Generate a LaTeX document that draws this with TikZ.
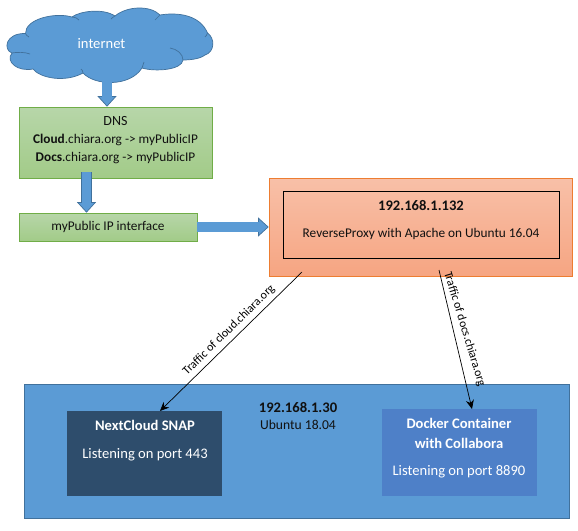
\documentclass[tikz,border=0pt]{standalone}
\usepackage{fontspec}
\setmainfont{Carlito}
\usetikzlibrary{arrows.meta,positioning}
\definecolor{flowblue}{HTML}{5B9BD5}
\definecolor{flowedge}{HTML}{41719C}
\definecolor{greentop}{HTML}{B7D6A9}
\definecolor{greenlow}{HTML}{A2CB88}
\definecolor{greenedge}{HTML}{70AD47}
\definecolor{orangetop}{HTML}{F8C0A8}
\definecolor{orangelow}{HTML}{F6A582}
\definecolor{orangeedge}{HTML}{ED7D31}
\definecolor{snapblue}{HTML}{2E4D6C}
\definecolor{dockerblue}{HTML}{4E80C8}
\definecolor{inktext}{HTML}{111111}

\begin{document}
\begin{tikzpicture}[
    x=1pt, y=-1pt,
    label/.style={font=\fontsize{13.3}{15}\selectfont, text=inktext, inner sep=0pt},
    boldlabel/.style={label, font=\fontsize{14.6}{16}\selectfont\bfseries},
    whitelabel/.style={label, font=\fontsize{14.6}{16}\selectfont, text=white},
    whitebold/.style={boldlabel, text=white},
    trafficlabel/.style={label, font=\fontsize{12}{14}\selectfont, text=black},
    greenbox/.style={draw=greenedge, line width=0.7pt, top color=greentop, bottom color=greenlow,
                     minimum width=#1, inner sep=0pt},
    blockflow/.style={line width=10.6pt, draw=flowedge,
                      -{Triangle[length=10.5pt, width=19pt, fill=flowblue, color=flowedge, line width=0.7pt]},
                      postaction={draw=flowblue, line width=9.2pt, -, shorten >=9.5pt}},
    trafficflow/.style={draw=black, line width=0.7pt, -{Stealth[length=9pt, width=8pt]}},
]
\useasboundingbox (0,0) rectangle (578,530);

% Cloud
\fill[white] (0,0) rectangle (578,530);
\draw[fill=flowblue, draw=flowedge, line width=0.7pt]
    (25.5,33.5) .. controls (25,19) and (55,12) .. (72,17)
    .. controls (80,11) and (103,8) .. (115,16)
    .. controls (127,6) and (150,5) .. (160,15)
    .. controls (178,12) and (200,15) .. (207.5,33)
    .. controls (215,38) and (215,52) .. (205,55)
    .. controls (200,59) and (190,60) .. (183,60)
    .. controls (182,70) and (155,72) .. (142,68)
    .. controls (130,87) and (95,86) .. (83,73)
    .. controls (65,83) and (40,78) .. (33,69)
    .. controls (18,72) and (5,62) .. (12,53)
    .. controls (3,50) and (5,33) .. (25.5,33.5) -- cycle;
\draw[flowedge, line width=0.7pt] (12,53) .. controls (17,52) and (25,52) .. (30,54);
\draw[flowedge, line width=0.7pt] (170,48) .. controls (177,49) and (183,54) .. (183,60);
\draw[flowedge, line width=0.7pt] (83,73) .. controls (83,71) and (82,70) .. (81,69);
\draw[flowedge, line width=0.7pt] (142,68) .. controls (143,66) and (143,64) .. (144,62);
\draw[flowedge, line width=0.7pt] (25.5,33.5) .. controls (26,35) and (27,36) .. (29,37);
\draw[flowedge, line width=0.7pt] (72,17) .. controls (75,17) and (77,18) .. (79,20);
\draw[flowedge, line width=0.7pt] (115,16) .. controls (113,17) and (112,18) .. (111,19);
\draw[flowedge, line width=0.7pt] (160,15) .. controls (158,17) and (156,19) .. (155,20);
\draw[flowedge, line width=0.7pt] (207.5,33) .. controls (207,35) and (206,36) .. (205,37);
\node[whitelabel] (inet) at (101.5,44) {internet};

% DNS
\node[greenbox=193pt, minimum height=71pt] (dns) at (115.5,142.5) {};
\node[label, font=\fontsize{14}{16}\selectfont] (dnstitle) at (115.5,121) {DNS};
\node[label] (dnscloud) at (115.5,140) {\textbf{Cloud}.chiara.org -> myPublicIP};
\node[label] (dnsdocs) at (115.5,158) {\textbf{Docs}.chiara.org -> myPublicIP};

% Interface
\node[greenbox=178pt, minimum height=28pt] (iface) at (108,227) {};
\node[label] (ifacetext) at (108,227) {myPublic IP interface};

% Proxy
\node[draw=orangeedge, line width=0.7pt, top color=orangetop, bottom color=orangelow,
      minimum width=303pt, minimum height=98pt, inner sep=0pt] (proxy) at (420.5,227) {};
\node[draw=black, line width=0.8pt, minimum width=276pt, minimum height=67pt, inner sep=0pt] (proxyin) at (421,224.5) {};
\node[boldlabel] (proxyip) at (421,205.5) {192.168.1.132};
\node[label] (proxytext) at (421,234) {ReverseProxy with Apache on Ubuntu 16.04};

% Host
\node[draw=flowedge, line width=0.7pt, fill=flowblue, minimum width=545pt, minimum height=134pt, inner sep=0pt] (host) at (296.5,451) {};
\node[boldlabel] (hostip) at (298,408) {192.168.1.30};
\node[label, font=\fontsize{13.6}{15}\selectfont] (hostos) at (298,425) {Ubuntu 18.04};

% NextCloud
\node[fill=snapblue, minimum width=155pt, minimum height=85pt, inner sep=0pt] (snap) at (144.5,453.5) {};
\node[whitebold] (snaptitle) at (145,425) {NextCloud SNAP};
\node[whitelabel] (snapport) at (145,455) {Listening on port 443};

% Docker
\node[fill=dockerblue, minimum width=155pt, minimum height=87pt, inner sep=0pt] (docker) at (459,452.5) {};
\node[whitebold] (dockertitle) at (459,423) {Docker Container};
\node[whitebold] (dockerwith) at (459,443) {with Collabora};
\node[whitelabel] (dockerport) at (459,472) {Listening on port 8890};

% Block arrows
\coordinate (inetout) at (107,72);
\coordinate (dnsout) at (86.5,172);
\draw[blockflow] (inetout) -- (inetout |- dns.north);
\draw[blockflow] (dnsout) -- (dnsout |- iface.north);
\draw[blockflow] (iface) -- (proxy);

% Traffic arrows
\coordinate (cloudout) at (302,272);
\coordinate (docsout) at (439,270);
\coordinate (snapin) at (160,411);
\coordinate (dockerin) at (472,409);
\draw[trafficflow] (cloudout) -- (snapin);
\draw[trafficflow] (docsout) -- (dockerin);
\node[trafficlabel, rotate=44.5] (cloudtraffic) at (229,330) {Traffic of cloud.chiara.org};
\node[trafficlabel, rotate=-73] (docstraffic) at (464.5,329) {Traffic of docs.chiara.org};
\end{tikzpicture}
\end{document}
